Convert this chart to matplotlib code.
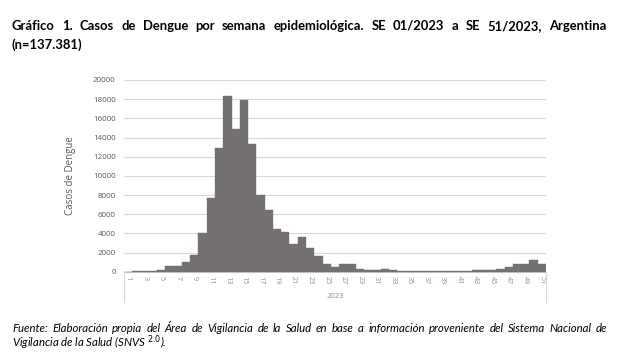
import matplotlib
matplotlib.use("Agg")
import matplotlib.pyplot as plt
from matplotlib.lines import Line2D

weeks = list(range(1, 52))
cases = [20, 30, 40, 60, 150, 600, 640, 1020, 1750, 4000,
         7650, 12950, 18300, 14900, 17950, 13300, 7950, 6450, 4450, 4150,
         2900, 3600, 2500, 1600, 780, 520, 780, 780, 330, 150,
         160, 260, 200, 110, 90, 80, 80, 90, 70, 80,
         110, 110, 150, 140, 190, 280, 450, 770, 790, 1230, 770]
tick_labels = [str(w) if w % 2 == 1 else "" for w in weeks]
y_ticks = list(range(0, 20001, 2000))
group_label = "2023"
y_label = "Casos de Dengue"
title_lines = ["Gráfico 1. Casos de Dengue por semana epidemiológica. SE 01/2023 a SE 51/2023, Argentina",
               "(n=137.381)"]
foot_lines = ["Fuente: Elaboración propia del Área de Vigilancia de la Salud en base a información proveniente del Sistema Nacional de",
              "Vigilancia de la Salud (SNVS $^{2.0}$)."]

W, H = 620, 362
fig = plt.figure(figsize=(W / 100, H / 100), dpi=100)
fig.patch.set_facecolor("white")

x0, x1 = 124, 546
ytop, ybot = 80, 271.7
ax = fig.add_axes([x0 / W, 1 - ybot / H, (x1 - x0) / W, (ybot - ytop) / H])

ax.bar(weeks, cases, width=1.0, color="#767171", edgecolor="#767171", linewidth=0.3, zorder=3)
ax.set_xlim(0.5, 51.5)
ax.set_ylim(0, 20000)
ax.set_yticks(y_ticks)
ax.set_yticklabels([str(v) for v in y_ticks], fontsize=5.8, color="#595959", family="Open Sans")
ax.yaxis.grid(True, color="#d9d9d9", linewidth=0.8, zorder=0)
ax.set_axisbelow(True)
ax.tick_params(axis="y", length=0, pad=6)
ax.set_xticks(weeks)
ax.set_xticklabels(tick_labels, rotation=270, fontsize=5.2, color="#7f8fa6", family="Open Sans")
ax.tick_params(axis="x", length=0, pad=3)
for s in ["top", "right", "left"]:
    ax.spines[s].set_visible(False)
ax.spines["bottom"].set_color("#bfbfbf")
ax.spines["bottom"].set_linewidth(0.8)

ax.set_ylabel(y_label, fontsize=7, color="#595959", family="Open Sans")
ax.yaxis.set_label_coords((76 - x0) / (x1 - x0), 0.5)

# category axis bracket lines
for xp in (x0, x1):
    fig.add_artist(Line2D([xp / W, xp / W], [1 - ybot / H, 1 - 302 / H], color="#d9d9d9", linewidth=0.8))
fig.text((x0 + x1) / 2 / W, 1 - 297 / H, group_label, fontsize=5.5, color="#7f8fa6",
         family="Open Sans", ha="center", va="center")

renderer = fig.canvas.get_renderer()


def justified(line, xl, xr, ypix, **kw):
    words = line.split(" ")
    texts = [fig.text(0, 1 - ypix / H, w, ha="left", va="baseline", **kw) for w in words]
    widths = [t.get_window_extent(renderer).width for t in texts]
    gap = (xr - xl - sum(widths)) / max(len(words) - 1, 1)
    x = xl
    for t, w in zip(texts, widths):
        t.set_x(x / W)
        x += w + gap


title_kw = dict(fontsize=9.4, fontweight="bold", family="Lato", color="black")
justified(title_lines[0], 12, 606, 30, **title_kw)
fig.text(12 / W, 1 - 49 / H, title_lines[1], ha="left", va="baseline", **title_kw)

foot_kw = dict(fontsize=8.2, style="italic", family="Lato", color="black")
justified(foot_lines[0], 12, 607, 332, **foot_kw)
fig.text(12 / W, 1 - 347 / H, foot_lines[1], ha="left", va="baseline", **foot_kw)

fig.savefig("out.png", dpi=100, facecolor="white")
